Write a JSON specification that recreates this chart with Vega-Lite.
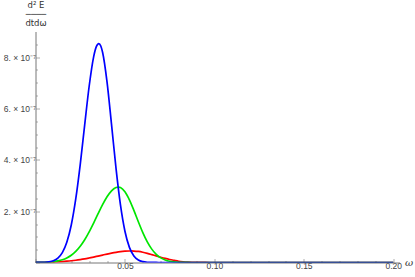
{
  "$schema": "https://vega.github.io/schema/vega-lite/v6.json",
  "autosize": "none",
  "width": 364,
  "height": 231,
  "padding": {"left": 35.5, "top": 31.5, "right": 15.5, "bottom": 14.5},
  "background": "white",
  "config": {"view": {"stroke": null}},
  "datasets": {
    "curves": [
      {"w": 0, "v": 3.5e-10, "s": "red"}, {"w": 0.0025, "v": 5.5e-10, "s": "red"}, {"w": 0.005, "v": 8e-10, "s": "red"},
      {"w": 0.0075, "v": 1.2e-9, "s": "red"}, {"w": 0.01, "v": 1.8e-9, "s": "red"}, {"w": 0.0125, "v": 2.6e-9, "s": "red"},
      {"w": 0.015, "v": 3.6e-9, "s": "red"}, {"w": 0.0175, "v": 5e-9, "s": "red"}, {"w": 0.02, "v": 6.7e-9, "s": "red"},
      {"w": 0.0225, "v": 8.8e-9, "s": "red"}, {"w": 0.025, "v": 1.13e-8, "s": "red"}, {"w": 0.0275, "v": 1.42e-8, "s": "red"},
      {"w": 0.03, "v": 1.76e-8, "s": "red"}, {"w": 0.0325, "v": 2.12e-8, "s": "red"}, {"w": 0.035, "v": 2.51e-8, "s": "red"},
      {"w": 0.0375, "v": 2.9e-8, "s": "red"}, {"w": 0.04, "v": 3.29e-8, "s": "red"}, {"w": 0.0425, "v": 3.65e-8, "s": "red"},
      {"w": 0.045, "v": 3.97e-8, "s": "red"}, {"w": 0.0475, "v": 4.23e-8, "s": "red"}, {"w": 0.05, "v": 4.4e-8, "s": "red"},
      {"w": 0.0525, "v": 4.49e-8, "s": "red"}, {"w": 0.0536, "v": 4.5e-8, "s": "red"}, {"w": 0.055, "v": 4.47e-8, "s": "red"},
      {"w": 0.0575, "v": 4.3e-8, "s": "red"}, {"w": 0.06, "v": 3.99e-8, "s": "red"}, {"w": 0.0625, "v": 3.57e-8, "s": "red"},
      {"w": 0.065, "v": 3.08e-8, "s": "red"}, {"w": 0.0675, "v": 2.56e-8, "s": "red"}, {"w": 0.07, "v": 2.06e-8, "s": "red"},
      {"w": 0.0725, "v": 1.59e-8, "s": "red"}, {"w": 0.075, "v": 1.18e-8, "s": "red"}, {"w": 0.0775, "v": 8.3e-9, "s": "red"},
      {"w": 0.08, "v": 5e-9, "s": "red"}, {"w": 0.0825, "v": 3e-9, "s": "red"}, {"w": 0.085, "v": 1.7e-9, "s": "red"},
      {"w": 0.0875, "v": 9e-10, "s": "red"}, {"w": 0.09, "v": 4e-10, "s": "red"}, {"w": 0.095, "v": 1e-10, "s": "red"},
      {"w": 0.1, "v": 0, "s": "red"}, {"w": 0.15, "v": 0, "s": "red"}, {"w": 0.2, "v": 0, "s": "red"},

      {"w": 0, "v": 2e-10, "s": "green"}, {"w": 0.0025, "v": 4.5e-10, "s": "green"}, {"w": 0.005, "v": 9e-10, "s": "green"},
      {"w": 0.0075, "v": 1.8e-9, "s": "green"}, {"w": 0.01, "v": 3.4e-9, "s": "green"}, {"w": 0.0125, "v": 6.2e-9, "s": "green"},
      {"w": 0.015, "v": 1.07e-8, "s": "green"}, {"w": 0.0175, "v": 1.78e-8, "s": "green"}, {"w": 0.02, "v": 2.83e-8, "s": "green"},
      {"w": 0.0225, "v": 4.31e-8, "s": "green"}, {"w": 0.025, "v": 6.32e-8, "s": "green"}, {"w": 0.0275, "v": 8.86e-8, "s": "green"},
      {"w": 0.03, "v": 1.191e-7, "s": "green"}, {"w": 0.0325, "v": 1.536e-7, "s": "green"}, {"w": 0.035, "v": 1.9e-7, "s": "green"},
      {"w": 0.0375, "v": 2.253e-7, "s": "green"}, {"w": 0.04, "v": 2.562e-7, "s": "green"}, {"w": 0.0425, "v": 2.794e-7, "s": "green"},
      {"w": 0.045, "v": 2.921e-7, "s": "green"}, {"w": 0.0464, "v": 2.94e-7, "s": "green"}, {"w": 0.0475, "v": 2.922e-7, "s": "green"},
      {"w": 0.05, "v": 2.756e-7, "s": "green"}, {"w": 0.0525, "v": 2.441e-7, "s": "green"}, {"w": 0.055, "v": 2.031e-7, "s": "green"},
      {"w": 0.0575, "v": 1.588e-7, "s": "green"}, {"w": 0.06, "v": 1.166e-7, "s": "green"}, {"w": 0.0625, "v": 8.04e-8, "s": "green"},
      {"w": 0.065, "v": 5.21e-8, "s": "green"}, {"w": 0.0675, "v": 3.17e-8, "s": "green"}, {"w": 0.07, "v": 1.81e-8, "s": "green"},
      {"w": 0.0725, "v": 9.8e-9, "s": "green"}, {"w": 0.075, "v": 4.9e-9, "s": "green"}, {"w": 0.0775, "v": 2.3e-9, "s": "green"},
      {"w": 0.08, "v": 1e-9, "s": "green"}, {"w": 0.0825, "v": 4e-10, "s": "green"}, {"w": 0.085, "v": 2e-10, "s": "green"},
      {"w": 0.09, "v": 0, "s": "green"}, {"w": 0.1, "v": 0, "s": "green"}, {"w": 0.15, "v": 0, "s": "green"}, {"w": 0.2, "v": 0, "s": "green"},

      {"w": 0, "v": 1e-10, "s": "blue"}, {"w": 0.0025, "v": 3e-10, "s": "blue"}, {"w": 0.005, "v": 9e-10, "s": "blue"},
      {"w": 0.0075, "v": 2.6e-9, "s": "blue"}, {"w": 0.01, "v": 7e-9, "s": "blue"}, {"w": 0.0125, "v": 1.73e-8, "s": "blue"},
      {"w": 0.015, "v": 3.86e-8, "s": "blue"}, {"w": 0.0175, "v": 7.87e-8, "s": "blue"}, {"w": 0.02, "v": 1.462e-7, "s": "blue"},
      {"w": 0.0225, "v": 2.475e-7, "s": "blue"}, {"w": 0.025, "v": 3.817e-7, "s": "blue"}, {"w": 0.0275, "v": 5.364e-7, "s": "blue"},
      {"w": 0.03, "v": 6.867e-7, "s": "blue"}, {"w": 0.0325, "v": 8.013e-7, "s": "blue"}, {"w": 0.034, "v": 8.41e-7, "s": "blue"},
      {"w": 0.0354, "v": 8.53e-7, "s": "blue"}, {"w": 0.0365, "v": 8.436e-7, "s": "blue"}, {"w": 0.0375, "v": 8.193e-7, "s": "blue"},
      {"w": 0.04, "v": 7.031e-7, "s": "blue"}, {"w": 0.0425, "v": 5.383e-7, "s": "blue"}, {"w": 0.045, "v": 3.677e-7, "s": "blue"},
      {"w": 0.0475, "v": 2.241e-7, "s": "blue"}, {"w": 0.05, "v": 1.218e-7, "s": "blue"}, {"w": 0.0525, "v": 5.9e-8, "s": "blue"},
      {"w": 0.055, "v": 2.55e-8, "s": "blue"}, {"w": 0.0575, "v": 9.9e-9, "s": "blue"}, {"w": 0.06, "v": 3.4e-9, "s": "blue"},
      {"w": 0.0625, "v": 1e-9, "s": "blue"}, {"w": 0.065, "v": 3e-10, "s": "blue"}, {"w": 0.0675, "v": 1e-10, "s": "blue"},
      {"w": 0.07, "v": 0, "s": "blue"}, {"w": 0.08, "v": 0, "s": "blue"}, {"w": 0.1, "v": 0, "s": "blue"},
      {"w": 0.15, "v": 0, "s": "blue"}, {"w": 0.2, "v": 0, "s": "blue"}
    ]
  },
  "data": {"name": "curves"},
  "mark": {"type": "line", "interpolate": "monotone", "strokeWidth": 1.7, "clip": true},
  "encoding": {
    "x": {
      "field": "w", "type": "quantitative",
      "scale": {"domain": [0, 0.2035], "nice": false, "zero": false},
      "axis": {
        "title": "ω",
        "titleFont": "DejaVu Serif", "titleFontStyle": "italic", "titleFontWeight": "normal", "titleFontSize": 10, "titleColor": "#333",
        "titleX": 373, "titleY": 0, "titleAlign": "center", "titleBaseline": "middle",
        "values": [0, 0.01, 0.02, 0.03, 0.04, 0.05, 0.06, 0.07, 0.08, 0.09, 0.1, 0.11, 0.12, 0.13, 0.14, 0.15, 0.16, 0.17, 0.18, 0.19, 0.2],
        "labelExpr": "(round(datum.value*100) % 5 == 0 && datum.value > 0) ? format(datum.value, '.2f') : ''",
        "labelFont": "Liberation Sans", "labelFontSize": 8.5, "labelColor": "#444", "labelPadding": 3,
        "labelFlush": false, "labelOverlap": false,
        "grid": false, "domainColor": "#777", "domainWidth": 1,
        "tickColor": "#999", "tickWidth": 0.8,
        "tickSize": {"condition": {"test": "round(datum.value*100) % 5 == 0", "value": -4}, "value": -2}
      }
    },
    "y": {
      "field": "v", "type": "quantitative",
      "scale": {"domain": [0, 9e-7], "nice": false},
      "axis": {
        "title": ["d² E", "────", "dtdω"],
        "titleFont": "DejaVu Sans", "titleFontWeight": "normal", "titleFontSize": 8.5, "titleColor": "#333",
        "titleAngle": 0, "titleAlign": "center", "titleBaseline": "top", "titleLineHeight": 9,
        "titleX": 0, "titleY": -31,
        "values": [0, 5e-8, 1e-7, 1.5e-7, 2e-7, 2.5e-7, 3e-7, 3.5e-7, 4e-7, 4.5e-7, 5e-7, 5.5e-7, 6e-7, 6.5e-7, 7e-7, 7.5e-7, 8e-7, 8.5e-7],
        "labelExpr": "(round(datum.value*2e7) % 4 == 0 && datum.value > 0) ? format(datum.value*1e7, '.0f') + '. × 10⁻⁷' : ''",
        "labelFont": "Liberation Sans", "labelFontSize": 8.5, "labelColor": "#444", "labelPadding": 4,
        "labelOverlap": false, "labelFlush": false,
        "grid": false, "domainColor": "#777", "domainWidth": 1,
        "tickColor": "#999", "tickWidth": 0.8,
        "tickSize": {"condition": {"test": "round(datum.value*2e7) % 4 == 0", "value": -4}, "value": -2}
      }
    },
    "color": {
      "field": "s", "type": "nominal",
      "scale": {"domain": ["red", "green", "blue"], "range": ["#ff0000", "#00e600", "#0000ff"]},
      "legend": null
    }
  }
}
